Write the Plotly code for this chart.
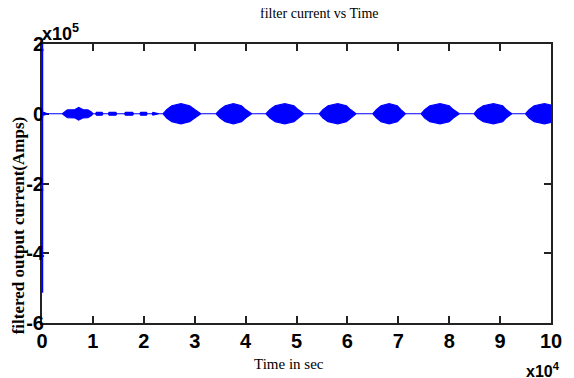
import plotly.graph_objects as go

# Scale factors shown on the axes (x10^4 and x10^5)
T_SCALE = 1e4
I_SCALE = 1e5

# Envelope of the filtered current, t in 10^4 s, amplitude in 10^5 A
env_t = [0.00, 0.05, 0.10, 0.40, 0.45, 0.50, 0.65, 0.72, 0.80, 0.90, 0.97, 1.00,
         1.05, 1.07, 1.18, 1.20, 1.30, 1.32, 1.45, 1.47, 1.62, 1.64, 1.78, 1.80, 1.92, 1.94,
         2.05, 2.07, 2.16, 2.18, 2.30,
         2.38, 2.45, 2.55, 2.73, 2.90, 3.00, 3.12,
         3.42, 3.50, 3.60, 3.76, 3.92, 4.00, 4.12,
         4.40, 4.48, 4.58, 4.77, 4.95, 5.03, 5.14,
         5.45, 5.52, 5.62, 5.81, 5.98, 6.06, 6.17,
         6.50, 6.57, 6.66, 6.82, 6.98, 7.05, 7.14,
         7.45, 7.52, 7.62, 7.82, 8.00, 8.08, 8.20,
         8.49, 8.56, 8.67, 8.87, 9.05, 9.12, 9.23,
         9.50, 9.57, 9.67, 9.87, 10.00]
env_amp = [0.03, 0.03, 0.00, 0.00, 0.06, 0.11, 0.12, 0.18, 0.12, 0.11, 0.05, 0.00,
           0.00, 0.04, 0.04, 0.00, 0.00, 0.04, 0.04, 0.00, 0.00, 0.04, 0.04, 0.00, 0.00, 0.04,
           0.04, 0.00, 0.00, 0.04, 0.00,
           0.00, 0.12, 0.23, 0.29, 0.23, 0.12, 0.00,
           0.00, 0.12, 0.23, 0.29, 0.23, 0.12, 0.00,
           0.00, 0.12, 0.23, 0.29, 0.23, 0.12, 0.00,
           0.00, 0.12, 0.23, 0.29, 0.23, 0.12, 0.00,
           0.00, 0.12, 0.23, 0.29, 0.23, 0.12, 0.00,
           0.00, 0.12, 0.23, 0.29, 0.23, 0.12, 0.00,
           0.00, 0.12, 0.23, 0.29, 0.23, 0.12, 0.00,
           0.00, 0.12, 0.23, 0.29, 0.25]

# Start-up transient at t = 0 (top is off-scale)
trans_t = [0.0, 0.0]
trans_i = [2.5, -5.13]

x_ticks = [0, 1, 2, 3, 4, 5, 6, 7, 8, 9, 10]
y_ticks = [-6, -4, -2, 0, 2]

BLUE = "#0000FF"

poly_t = [t * T_SCALE for t in env_t] + [t * T_SCALE for t in reversed(env_t)]
poly_i = [a * I_SCALE for a in env_amp] + [-a * I_SCALE for a in reversed(env_amp)]

fig = go.Figure()
fig.add_trace(go.Scatter(x=poly_t, y=poly_i, mode="lines", fill="toself",
                         fillcolor=BLUE, line=dict(color=BLUE, width=1.2),
                         hoverinfo="skip", showlegend=False))
fig.add_trace(go.Scatter(x=[t * T_SCALE for t in trans_t], y=[v * I_SCALE for v in trans_i],
                         mode="lines", line=dict(color=BLUE, width=2.5),
                         hoverinfo="skip", showlegend=False))

tick_font = dict(family="Liberation Sans", size=20, color="black", weight="bold")
axis_common = dict(showline=True, linecolor="#222", linewidth=2, mirror="ticks",
                   ticks="inside", ticklen=7, tickwidth=2, tickcolor="#222",
                   showgrid=False, zeroline=False, layer="below traces",
                   tickfont=tick_font)

# The page body adds an 8px offset, so the figure is 8px smaller and margins compensate.
fig.update_layout(
    width=566, height=370,
    margin=dict(l=34, r=19, t=36, b=55),
    paper_bgcolor="white", plot_bgcolor="white",
    xaxis=dict(range=[0, 10 * T_SCALE], tickvals=[v * T_SCALE for v in x_ticks],
               ticktext=[str(v) for v in x_ticks], ticklabelstandoff=-1, **axis_common),
    yaxis=dict(range=[-6 * I_SCALE, 2 * I_SCALE], tickvals=[v * I_SCALE for v in y_ticks],
               ticktext=[str(v) for v in y_ticks], ticklabelstandoff=-8, **axis_common),
    title=dict(text="filter current vs Time", x=0.55, xanchor="center", y=1.0, yanchor="top",
               pad=dict(t=0),
               font=dict(family="Liberation Serif", size=14, color="black")),
    annotations=[
        dict(text="x10<sup>5</sup>", xref="paper", yref="paper", x=0.0, y=1.0,
             xanchor="left", yanchor="bottom", showarrow=False, xshift=-2, yshift=-2,
             font=dict(family="Liberation Sans", size=18, color="black", weight="bold")),
        dict(text="x10<sup>4</sup>", xref="paper", yref="paper", x=1.0, y=0.0,
             xanchor="center", yanchor="top", showarrow=False, xshift=-8, yshift=-35,
             font=dict(family="Liberation Sans", size=16, color="black", weight="bold")),
        dict(text="Time in sec", xref="paper", yref="paper", x=0.485, y=0.0,
             xanchor="center", yanchor="top", showarrow=False, yshift=-31,
             font=dict(family="Liberation Serif", size=15, color="black")),
        dict(text="filtered output current(Amps)", xref="paper", yref="paper",
             x=0.0, y=0.35, xanchor="center", yanchor="middle", textangle=-90,
             showarrow=False, xshift=-24,
             font=dict(family="Liberation Serif", size=17, color="black", weight="bold")),
    ],
)

fig.write_html("out.html")
